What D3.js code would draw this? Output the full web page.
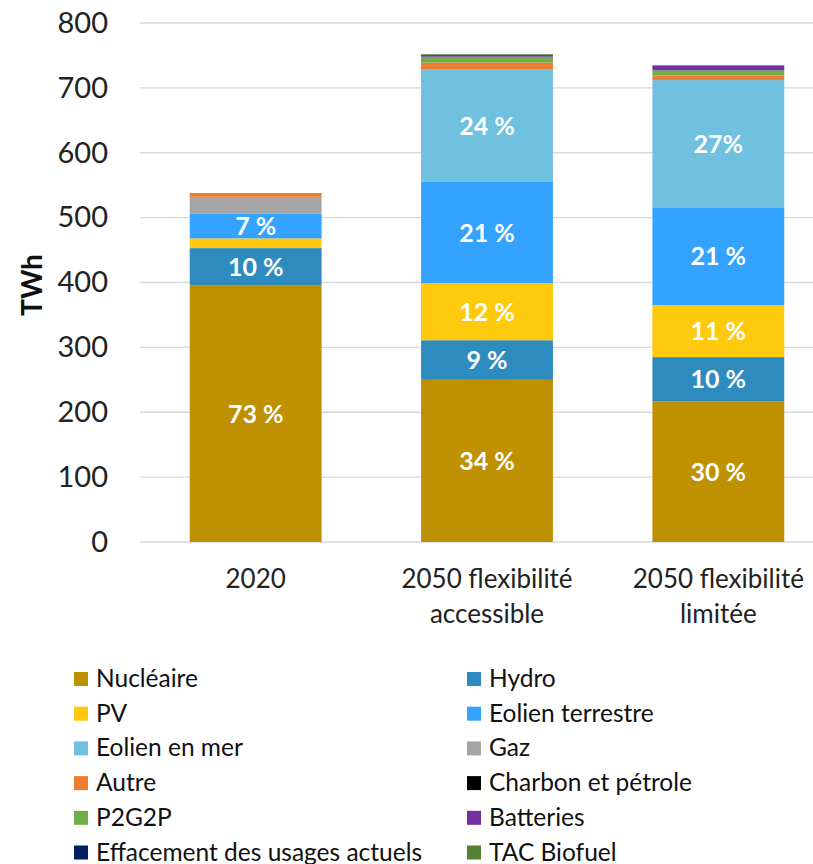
<!DOCTYPE html>
<html><head><meta charset="utf-8">
<script src="https://cdn.jsdelivr.net/npm/d3@7"></script>
<style>body{margin:0;background:#fff;} svg{display:block;}</style>
</head><body>
<svg id="c" width="813" height="864"></svg>
<script>
const categories = [["2020"], ["2050 flexibilité", "accessible"], ["2050 flexibilité", "limitée"]];
const seriesNames = ["Nucléaire","Hydro","PV","Eolien terrestre","Eolien en mer","Gaz","Autre","Charbon et pétrole","P2G2P","Batteries","Effacement des usages actuels","TAC Biofuel"];
const seriesColors = ["#BF9000","#2E8BC0","#FFC90E","#33A3FF","#70C0E0","#A5A5A5","#ED7D31","#000000","#70AD47","#7030A0","#002060","#548235"];
// TWh per category, per series
const nucleaire = [396, 250, 217];
const hydro = [57, 61, 68];
const pv = [15, 88, 80];
const eolienTerrestre = [38, 156, 151];
const eolienMer = [0, 174, 196];
const gaz = [26, 0, 0];
const autre = [6, 10, 7];
const charbon = [0, 0, 0];
const p2g2p = [0, 9, 8];
const batteries = [0, 3, 7];
const effacement = [0, 0, 0];
const tacBiofuel = [0, 1, 1];
const labels = [
  ["73 %","10 %","","7 %","","","","","","","",""],
  ["34 %","9 %","12 %","21 %","24 %","","","","","","",""],
  ["30 %","10 %","11 %","21 %","27%","","","","","","",""]
];
const yTicks = [0,100,200,300,400,500,600,700,800];

const allSeries = [nucleaire,hydro,pv,eolienTerrestre,eolienMer,gaz,autre,charbon,p2g2p,batteries,effacement,tacBiofuel];
const data = categories.map((c,i)=>{const o={i}; seriesNames.forEach((s,k)=>o[s]=allSeries[k][i]); return o;});

const svg = d3.select("#c");
const font = "Lato, 'Open Sans', sans-serif";
const x = d3.scaleBand().domain(categories.map((c,i)=>i)).range([140,834]).paddingInner(0.43).paddingOuter(0.215);
const y = d3.scaleLinear().domain([0,800]).range([542,23]);

// gridlines
svg.append("g").selectAll("line").data(yTicks).join("line")
  .attr("x1",140).attr("x2",813).attr("y1",d=>y(d)).attr("y2",d=>y(d))
  .attr("stroke","#d9d9d9").attr("stroke-width",1.3);

// y tick labels
const yAxis = d3.axisLeft(y).tickValues(yTicks).tickSize(0).tickPadding(0);
const ya = svg.append("g").attr("transform","translate(108,0)").call(yAxis);
ya.select(".domain").remove();
ya.selectAll("text").attr("font-family",font).attr("font-size",29).attr("fill","#222");

svg.append("text").attr("transform","translate(42,285) rotate(-90)").attr("text-anchor","middle")
  .attr("font-family",font).attr("font-size",28).attr("font-weight","bold").attr("fill","#111").text("TWh");

const stack = d3.stack().keys(seriesNames)(data);
stack.forEach((layer,k)=>{
  svg.append("g").selectAll("rect").data(layer).join("rect")
    .attr("x",d=>x(d.data.i)).attr("width",x.bandwidth())
    .attr("y",d=>y(d[1])).attr("height",d=>y(d[0])-y(d[1]))
    .attr("fill",seriesColors[k]);
  svg.append("g").selectAll("text").data(layer.filter(d=>labels[d.data.i][k]!=="")).join("text")
    .attr("x",d=>x(d.data.i)+x.bandwidth()/2).attr("y",d=>y((d[0]+d[1])/2)+9)
    .attr("text-anchor","middle").attr("font-family",font).attr("font-size",25).attr("font-weight","bold")
    .attr("fill","#fff").text(d=>labels[d.data.i][k]);
});

// x labels
const xl = svg.append("g");
categories.forEach((c,i)=>{
  c.forEach((line,j)=>{
    xl.append("text").attr("x",x(i)+x.bandwidth()/2).attr("y",588+j*35).attr("text-anchor","middle")
      .attr("font-family",font).attr("font-size",26).attr("fill","#222").text(line);
  });
});

// legend
const lg = svg.append("g");
seriesNames.forEach((s,k)=>{
  const col = k%2, row = Math.floor(k/2);
  const lx = col===0?74:467, ly = 679+row*34.7;
  lg.append("rect").attr("x",lx).attr("y",ly-7).attr("width",14).attr("height",14).attr("fill",seriesColors[k]);
  lg.append("text").attr("x",lx+22).attr("y",ly+8).attr("font-family",font).attr("font-size",24.5).attr("fill","#111").text(s);
});
</script>
</body></html>
